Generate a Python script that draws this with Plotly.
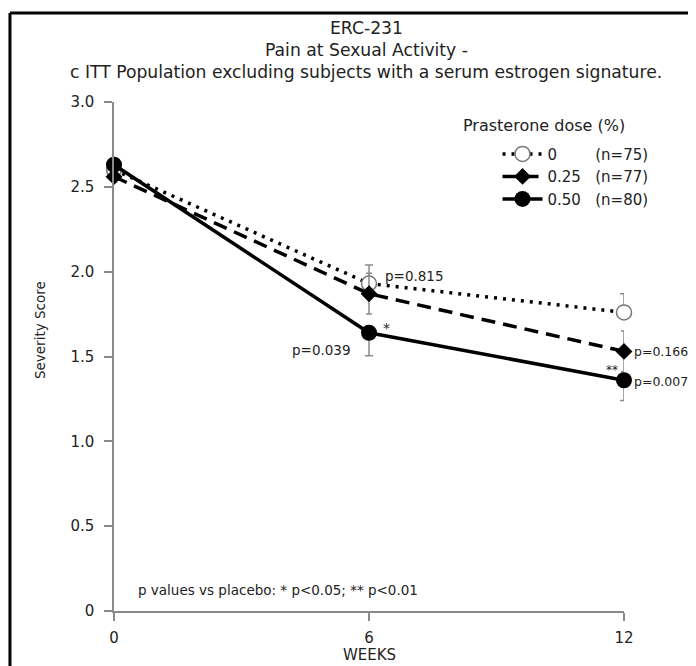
import plotly.graph_objects as go

weeks = [0, 6, 12]
dose_labels = ["0", "0.25", "0.50"]
n_labels = ["(n=75)", "(n=77)", "(n=80)"]
score_0 = [2.60, 1.93, 1.76]
score_025 = [2.56, 1.87, 1.53]
score_050 = [2.63, 1.64, 1.36]
err_0_up = [0.0, 0.11, 0.11]
err_025 = [0.0, 0.12, 0.12]
err_050_down = [0.0, 0.135, 0.12]
y_ticks = [0, 0.5, 1.0, 1.5, 2.0, 2.5, 3.0]
y_tick_text = ["0", "0.5", "1.0", "1.5", "2.0", "2.5", "3.0"]
x_ticks = [0, 6, 12]

FONT = "DejaVu Sans"
TXT = "#222222"
GREY = "#8a8a8a"

fig = go.Figure()

def legend_name(d, n, pad):
    return d + "&nbsp;" * pad + n

fig.add_trace(go.Scatter(
    x=weeks, y=score_0, mode="lines+markers",
    name=legend_name(dose_labels[0], n_labels[0], 8),
    line=dict(color="black", width=3.5, dash="3px,6px"),
    marker=dict(symbol="circle", size=15, color="white", line=dict(color="#777777", width=1.5)),
    error_y=dict(type="data", array=err_0_up, arrayminus=[0, 0, 0], symmetric=False,
                 color=GREY, thickness=1.5, width=4),
    cliponaxis=False,
))
fig.add_trace(go.Scatter(
    x=weeks, y=score_025, mode="lines+markers",
    name=legend_name(dose_labels[1], n_labels[1], 3),
    line=dict(color="black", width=3.5, dash="14px,8px"),
    marker=dict(symbol="diamond", size=13, color="black"),
    error_y=dict(type="data", array=err_025, color=GREY, thickness=1.5, width=3),
    cliponaxis=False,
))
fig.add_trace(go.Scatter(
    x=weeks, y=score_050, mode="lines+markers",
    name=legend_name(dose_labels[2], n_labels[2], 3),
    line=dict(color="black", width=3.5),
    marker=dict(symbol="circle", size=16, color="black"),
    error_y=dict(type="data", array=[0, 0, 0], arrayminus=err_050_down, symmetric=False,
                 color=GREY, thickness=1.5, width=4),
    cliponaxis=False,
))

ann = []
for txt, yp in [("ERC-231", 1.145), ("Pain at Sexual Activity -", 1.102),
                ("c ITT Population excluding subjects with a serum estrogen signature.", 1.059)]:
    ann.append(dict(text=txt, x=0.5, y=yp, xref="paper", yref="paper", showarrow=False,
                    xanchor="center", yanchor="middle", xshift=-3,
                    font=dict(family=FONT, size=17.2, color=TXT)))
ann.append(dict(text="Prasterone dose (%)", x=0.68, y=0.953, xref="paper", yref="paper",
                showarrow=False, xanchor="left", yanchor="middle",
                font=dict(family=FONT, size=16, color=TXT)))
ann.append(dict(text="Severity Score", x=-0.145, y=0.552, xref="paper", yref="paper",
                showarrow=False, xanchor="center", yanchor="middle", textangle=-90,
                font=dict(family=FONT, size=13.5, color=TXT)))
ann.append(dict(text="WEEKS", x=0.5, y=-0.087, xref="paper", yref="paper",
                showarrow=False, xanchor="center", yanchor="middle",
                font=dict(family=FONT, size=15, color=TXT)))
pfont = dict(family=FONT, size=13.5, color=TXT)
pfont_r = dict(family=FONT, size=12.5, color=TXT)
ann.append(dict(text="p=0.815", x=6, y=score_0[1], xanchor="left", yanchor="middle",
                xshift=14, yshift=8, showarrow=False, font=pfont))
ann.append(dict(text="p=0.039", x=6, y=score_050[1], xanchor="right", yanchor="middle",
                xshift=-16, yshift=-17, showarrow=False, font=pfont))
ann.append(dict(text="*", x=6, y=score_050[1], xanchor="left", yanchor="middle",
                xshift=12, yshift=5, showarrow=False, font=dict(family=FONT, size=14, color=TXT)))
ann.append(dict(text="p=0.166", x=12, y=score_025[2], xanchor="left", yanchor="middle",
                xshift=8, yshift=0, showarrow=False, font=pfont_r))
ann.append(dict(text="p=0.007", x=12, y=score_050[2], xanchor="left", yanchor="middle",
                xshift=8, yshift=-1, showarrow=False, font=pfont_r))
ann.append(dict(text="**", x=12, y=score_050[2], xanchor="right", yanchor="middle",
                xshift=-4, yshift=10, showarrow=False, font=dict(family=FONT, size=12, color=TXT)))
ann.append(dict(text="p values vs placebo: * p<0.05; ** p<0.01", x=0.043, y=0.041,
                xref="paper", yref="paper", xanchor="left", yanchor="middle", showarrow=False,
                font=dict(family=FONT, size=13.5, color=TXT)))

fig.update_layout(
    width=680, height=658,
    margin=dict(l=106, r=64, t=94, b=55),
    paper_bgcolor="white", plot_bgcolor="white",
    font=dict(family=FONT, color=TXT),
    showlegend=True,
    legend=dict(x=0.752, y=0.93, xanchor="left", yanchor="top",
                font=dict(family=FONT, size=15, color=TXT),
                bgcolor="rgba(0,0,0,0)", tracegroupgap=0, itemwidth=40),
    annotations=ann,
    xaxis=dict(range=[0, 12], tickvals=x_ticks, showgrid=False, zeroline=False,
               showline=True, linecolor=GREY, linewidth=1.5, ticks="outside",
               ticklen=8, tickcolor=GREY, tickwidth=1.5, ticklabelstandoff=4,
               tickfont=dict(family=FONT, size=15, color=TXT), automargin=False),
    yaxis=dict(range=[0, 3.0], tickvals=y_ticks, ticktext=y_tick_text, showgrid=False,
               zeroline=False, showline=True, linecolor=GREY, linewidth=1.5, ticks="outside",
               ticklen=8, tickcolor=GREY, tickwidth=1.5, ticklabelstandoff=7,
               tickfont=dict(family=FONT, size=15, color=TXT), automargin=False),
    shapes=[
        dict(type="line", xref="paper", yref="paper", x0=-0.204, x1=-0.204, y0=-0.2, y1=1.175,
             line=dict(color="black", width=3)),
        dict(type="line", xref="paper", yref="paper", x0=-0.204, x1=1.2, y0=1.175, y1=1.175,
             line=dict(color="black", width=3)),
    ],
)

fig.write_html("out.html")
